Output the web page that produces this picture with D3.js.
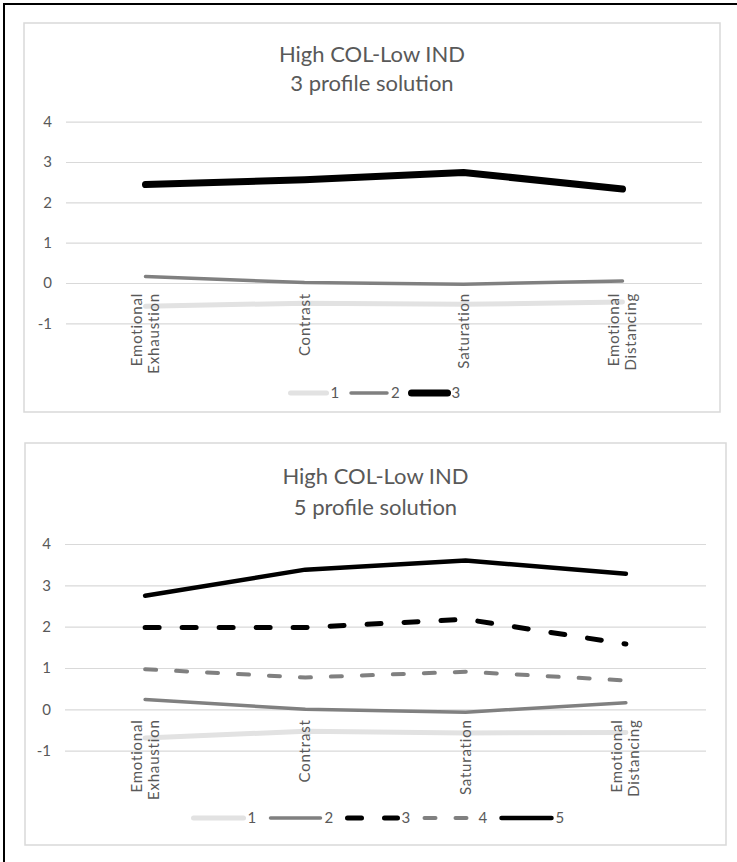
<!DOCTYPE html>
<html>
<head>
<meta charset="utf-8">
<script src="https://cdn.jsdelivr.net/npm/d3@7"></script>
<style>
  body { margin: 0; background: #fff; }
  text { font-family: Lato, "Open Sans", sans-serif; fill: #595959; }
</style>
</head>
<body>
<div id="first"></div>
<script>
// data

var categories = ["Emotional Exhaustion", "Contrast", "Saturation", "Emotional Distancing"];
var yTicks = [-1, 0, 1, 2, 3, 4];

// 3 profile solution
var names3 = ["1", "2", "3"];
var p3_1 = [-0.58, -0.50, -0.53, -0.47];
var p3_2 = [0.16, 0.01, -0.03, 0.05];
var p3_3 = [2.44, 2.56, 2.74, 2.33];

// 5 profile solution
var names5 = ["1", "2", "3", "4", "5"];
var p5_1 = [-0.69, -0.53, -0.57, -0.56];
var p5_2 = [0.24, 0.00, -0.07, 0.16];
var p5_3 = [1.98, 1.98, 2.18, 1.58];
var p5_4 = [0.97, 0.77, 0.91, 0.70];
var p5_5 = [2.75, 3.38, 3.60, 3.28];

var w = 737,
    h = 862;

var svg = d3.select("#first")
	.append("svg")
	.attr("width", w)
	.attr("height", h);

// outer frame
svg.append("rect")
	.attr("x", 4).attr("y", 4)
	.attr("width", w + 10).attr("height", h + 10)
	.style("fill", "none")
	.style("stroke", "#000")
	.style("stroke-width", 2);

var lightStyle = {color: "#e2e2e2", width: 5};
var midStyle = {color: "#808080", width: 3.5};

function drawPanel(p) {
	var g = svg.append("g");

	g.append("rect")
		.attr("x", p.box[0]).attr("y", p.box[1])
		.attr("width", p.box[2]).attr("height", p.box[3])
		.style("fill", "#fff")
		.style("stroke", "#d9d9d9")
		.style("stroke-width", 1.5);

	var cx = p.box[0] + p.box[2] / 2;

	g.selectAll(".title")
		.data(p.title)
		.enter().append("text")
		.attr("x", cx)
		.attr("y", function(d, i) { return p.titleY + i * p.titleGap; })
		.attr("text-anchor", "middle")
		.style("font-size", "22px")
		.text(function(d) { return d; });

	var x = d3.scaleBand().domain(categories).range(p.xr);
	var y = d3.scaleLinear().domain([-1, 4]).range(p.yr);
	var xc = function(d) { return x(d) + x.bandwidth() / 2; };

	// gridlines + tick labels
	var yAxis = d3.axisLeft(y)
		.tickValues(yTicks)
		.tickSize(-(p.xr[1] - p.xr[0]))
		.tickPadding(14)
		.tickFormat(function(d) { return String(d); });

	var ax = g.append("g")
		.attr("transform", "translate(" + p.xr[0] + ",0)")
		.call(yAxis);
	ax.select(".domain").remove();
	ax.selectAll(".tick line").style("stroke", "#d9d9d9").style("stroke-width", 1.2);
	ax.selectAll(".tick text")
		.style("font-size", "15px")
		.style("fill", "#595959")
		.style("font-family", "Lato, sans-serif");

	var line = d3.line()
		.x(function(d, i) { return xc(categories[i]); })
		.y(function(d) { return y(d); });

	p.series.forEach(function(s) {
		g.append("path")
			.datum(s.values)
			.attr("d", line)
			.style("fill", "none")
			.style("stroke", s.style.color)
			.style("stroke-width", s.style.width)
			.style("stroke-linecap", "round")
			.style("stroke-linejoin", "round")
			.style("stroke-dasharray", s.style.dash || null);
	});

	// category labels, rotated (on top of the lines)
	var labTop = y(0) + 10;
	categories.forEach(function(c) {
		var lines = c.split(" ");
		if (c === "Contrast" || c === "Saturation") lines = [c];
		var lg = g.append("g")
			.attr("transform", "translate(" + xc(c) + "," + labTop + ") rotate(-90)");
		lines.forEach(function(t, i) {
			lg.append("text")
				.attr("x", 0)
				.attr("y", (i - (lines.length - 1) / 2) * 17 + 5)
				.attr("text-anchor", "end")
				.style("font-size", "15px")
				.style("letter-spacing", "0.8px")
				.text(t);
		});
	});

	// legend
	var n = p.series.length;
	var gapAfter = p.pitch - p.sample - 12;
	var start = cx - (n * p.pitch - gapAfter) / 2 + 3;
	p.series.forEach(function(s, i) {
		var x0 = start + i * p.pitch;
		g.append("line")
			.attr("x1", x0).attr("x2", x0 + p.sample)
			.attr("y1", p.legendY).attr("y2", p.legendY)
			.style("stroke", s.style.color)
			.style("stroke-width", s.style.width)
			.style("stroke-linecap", "round")
			.style("stroke-dasharray", s.style.dash || null);
		g.append("text")
			.attr("x", x0 + p.sample + 4)
			.attr("y", p.legendY + 5)
			.style("font-size", "15px")
			.text(s.name);
	});
}

drawPanel({
	box: [24, 23, 696, 389],
	title: ["High COL-Low IND", "3 profile solution"],
	titleY: 62, titleGap: 29,
	xr: [66, 702], yr: [323.3, 121.7],
	legendY: 393, pitch: 60.5, sample: 36,
	series: [
		{name: names3[0], values: p3_1, style: lightStyle},
		{name: names3[1], values: p3_2, style: midStyle},
		{name: names3[2], values: p3_3, style: {color: "#000", width: 7}}
	]
});

drawPanel({
	box: [25, 443, 701, 402],
	title: ["High COL-Low IND", "5 profile solution"],
	titleY: 484, titleGap: 31,
	xr: [65, 706], yr: [750.7, 544],
	legendY: 818, pitch: 77, sample: 50,
	series: [
		{name: names5[0], values: p5_1, style: lightStyle},
		{name: names5[1], values: p5_2, style: midStyle},
		{name: names5[2], values: p5_3, style: {color: "#000", width: 5, dash: "14,23"}},
		{name: names5[3], values: p5_4, style: {color: "#808080", width: 4, dash: "11,20"}},
		{name: names5[4], values: p5_5, style: {color: "#000", width: 4.5}}
	]
});
</script>
</body>
</html>
